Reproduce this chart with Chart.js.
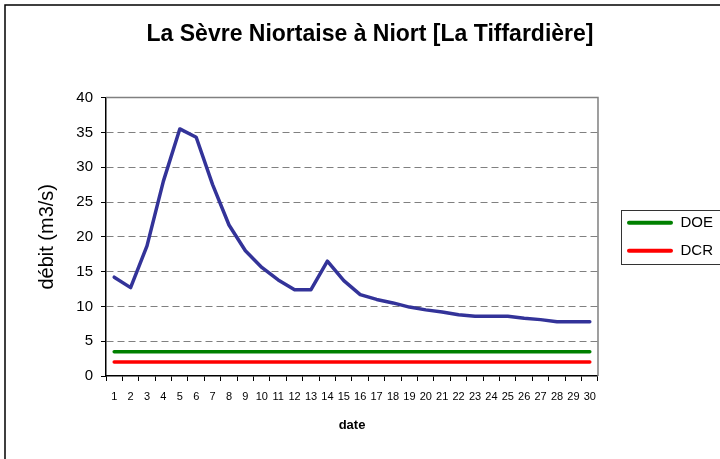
<!DOCTYPE html>
<html>
<head>
<meta charset="utf-8">
<script src="https://cdn.jsdelivr.net/npm/chart.js@4/dist/chart.umd.min.js"></script>
<style>
  html, body { margin: 0; padding: 0; background: #fff; overflow: hidden; }
  #wrap { width: 740px; height: 459px; }
</style>
</head>
<body>
<div id="wrap"><canvas id="chart" width="740" height="459"></canvas></div>
<script>
const days = ['1', '2', '3', '4', '5', '6', '7', '8', '9', '10', '11', '12', '13', '14', '15',
  '16', '17', '18', '19', '20', '21', '22', '23', '24', '25', '26', '27', '28', '29', '30'];

// débit journalier (m3/s)
const flow = [14.2, 12.7, 18.7, 28.0, 35.5, 34.3, 27.5, 21.7, 18.0, 15.6, 13.8, 12.4, 12.4, 16.5, 13.7,
  11.7, 11.0, 10.5, 9.9, 9.5, 9.2, 8.8, 8.6, 8.6, 8.6, 8.3, 8.1, 7.8, 7.8, 7.8];

// seuils
const doe = [3.5, 3.5, 3.5, 3.5, 3.5, 3.5, 3.5, 3.5, 3.5, 3.5, 3.5, 3.5, 3.5, 3.5, 3.5,
  3.5, 3.5, 3.5, 3.5, 3.5, 3.5, 3.5, 3.5, 3.5, 3.5, 3.5, 3.5, 3.5, 3.5, 3.5];
const dcr = [2, 2, 2, 2, 2, 2, 2, 2, 2, 2, 2, 2, 2, 2, 2,
  2, 2, 2, 2, 2, 2, 2, 2, 2, 2, 2, 2, 2, 2, 2];

const yMin = 0;
const yMax = 40;
const yStep = 5;

Chart.defaults.font.family = "'Liberation Sans', Arial, sans-serif";
Chart.defaults.color = '#000';

// plot frame, outer frame and legend box (Excel look)
const frames = {
  id: 'frames',
  beforeDatasetsDraw(chart) {
    const { ctx, chartArea: a } = chart;
    ctx.save();
    ctx.strokeStyle = '#808080';
    ctx.lineWidth = 1.5;
    ctx.beginPath();
    ctx.moveTo(a.left, a.top);
    ctx.lineTo(a.right, a.top);
    ctx.lineTo(a.right, a.bottom);
    ctx.stroke();
    ctx.restore();
  },
  afterDraw(chart) {
    const { ctx } = chart;
    ctx.save();
    ctx.strokeStyle = '#000';
    ctx.lineWidth = 1.5;
    ctx.strokeRect(5, 5, 1000, 1000);

    const boxes = chart.legend.legendHitBoxes || [];
    if (boxes.length) {
      const first = boxes[0];
      const last = boxes[boxes.length - 1];
      const x = Math.round(first.left - 6) + 0.5;
      const top = Math.round(first.top + first.height / 2 - 13) + 0.5;
      const bottom = Math.round(last.top + last.height / 2 + 13) + 0.5;
      ctx.lineWidth = 1;
      ctx.strokeStyle = '#333';
      ctx.strokeRect(x, top, 300, bottom - top);
    }
    ctx.restore();
  }
};

// empty axis used as a fixed gap between plot and legend
const gap = {
  type: 'linear',
  position: 'right',
  display: true,
  ticks: { display: false },
  grid: { display: false, drawTicks: false },
  border: { display: false },
  afterFit: (s) => { s.width = 16; }
};

new Chart(document.getElementById('chart'), {
  type: 'line',
  data: {
    labels: days,
    datasets: [
      {
        label: 'débit',
        data: flow,
        borderColor: '#333399',
        backgroundColor: '#333399',
        borderWidth: 3.5,
        pointRadius: 0,
        tension: 0,
        borderCapStyle: 'round',
        borderJoinStyle: 'round',
      },
      {
        label: 'DOE',
        data: doe,
        borderColor: '#008000',
        backgroundColor: '#008000',
        borderWidth: 3.5,
        pointRadius: 0,
        borderCapStyle: 'round',
      },
      {
        label: 'DCR',
        data: dcr,
        borderColor: '#ff0000',
        backgroundColor: '#ff0000',
        borderWidth: 3.5,
        pointRadius: 0,
        borderCapStyle: 'round',
      },
    ],
  },
  options: {
    responsive: false,
    animation: false,
    layout: { padding: { left: 17, right: 17, top: 0, bottom: 0 } },
    plugins: {
      tooltip: { enabled: false },
      title: {
        display: true,
        text: 'La Sèvre Niortaise à Niort [La Tiffardière]',
        color: '#000',
        font: { size: 23, weight: 'bold' },
        padding: { top: 21, bottom: 49 },
      },
      legend: {
        position: 'right',
        fullSize: false,
        align: 'center',
        labels: {
          boxWidth: 46,
          boxHeight: 4,
          padding: 13,
          color: '#000',
          font: { size: 15 },
          useBorderRadius: true,
          borderRadius: 2,
          filter: (item) => item.datasetIndex > 0,
          generateLabels: (chart) =>
            Chart.defaults.plugins.legend.labels.generateLabels(chart).map((l) => ({ ...l, lineWidth: 0 })),
        },
      },
    },
    scales: {
      x: {
        offset: true,
        ticks: { color: '#000', font: { size: 11 }, autoSkip: false, maxRotation: 0, padding: 9 },
        grid: { offset: true, drawOnChartArea: false, drawTicks: true, tickLength: 5, tickColor: '#000', color: '#000' },
        border: { color: '#000', width: 1.5 },
        title: {
          display: true,
          text: 'date',
          color: '#000',
          font: { size: 13, weight: 'bold' },
          padding: { top: 0, bottom: 26 },
        },
        afterFit: (s) => { s.height = 83; },
      },
      y: {
        min: yMin,
        max: yMax,
        ticks: { stepSize: yStep, color: '#000', font: { size: 15 }, padding: 8 },
        grid: {
          color: (c) => (c.tick && (c.tick.value === yMin || c.tick.value === yMax)) ? 'rgba(0,0,0,0)' : '#808080',
          lineWidth: 1,
          tickColor: '#000',
          tickLength: 5,
          tickBorderDash: [],
        },
        border: { color: '#000', width: 1.5, dash: [7, 4] },
        title: {
          display: true,
          text: 'débit (m3/s)',
          color: '#000',
          font: { size: 20 },
          padding: { top: 18, bottom: 0 },
        },
        afterFit: (s) => { s.width = 89; },
      },
      gap: gap,
    },
  },
  plugins: [frames],
});
</script>
</body>
</html>
